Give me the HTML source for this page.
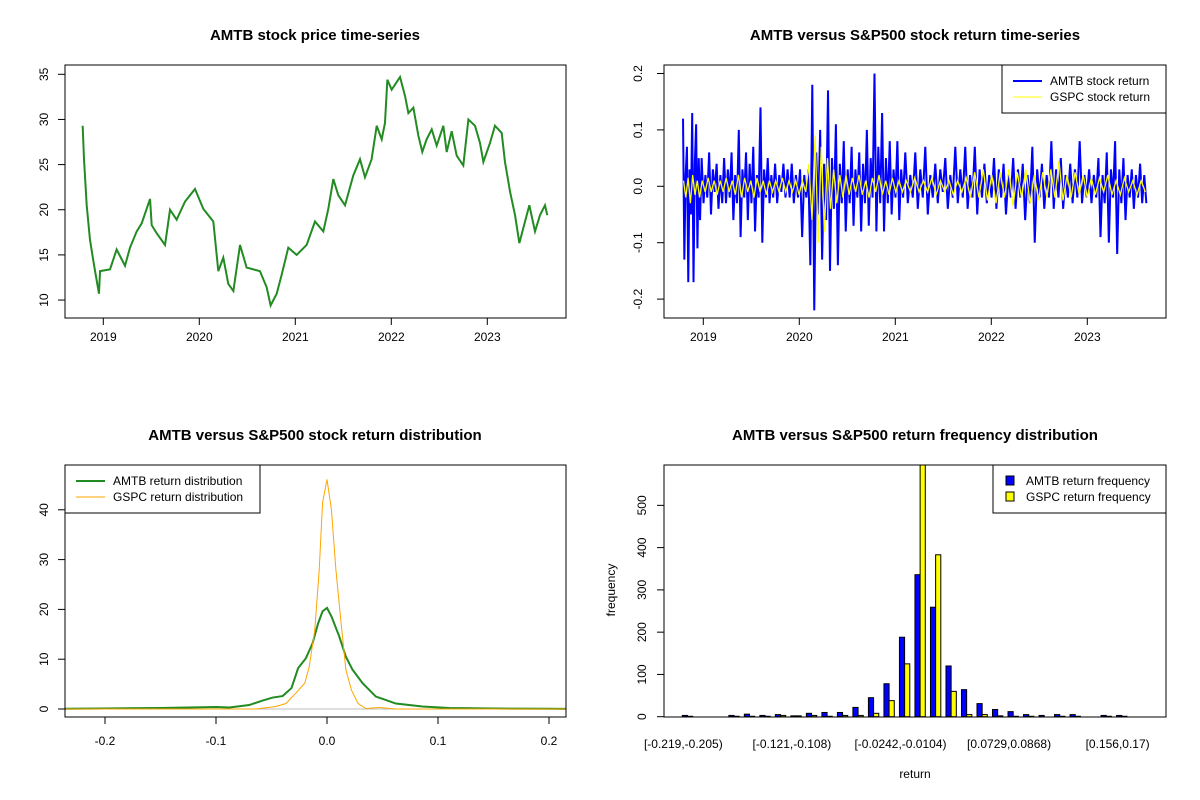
<!DOCTYPE html>
<html><head><meta charset="utf-8"><style>
body{margin:0;background:#fff}
svg{display:block;font-family:"Liberation Sans",Arial,sans-serif}
.t{font-size:15px;font-weight:bold;text-anchor:middle}
.tk{font-size:12px;text-anchor:middle}
.lg{font-size:12px}
</style></head><body>
<svg id="c" width="1200" height="800" viewBox="0 0 1200 800">
<defs>
<clipPath id="cp1"><rect x="65" y="65" width="501" height="253"/></clipPath>
<clipPath id="cp2"><rect x="664" y="65" width="502" height="253"/></clipPath>
<clipPath id="cp3"><rect x="65" y="465" width="501" height="252"/></clipPath>
<clipPath id="cp4"><rect x="664" y="465" width="502" height="252"/></clipPath>
</defs>
<rect width="1200" height="800" fill="#fff"/>
<text class="t" x="315" y="40">AMTB stock price time-series</text>
<text class="t" x="915" y="40">AMTB versus S&amp;P500 stock return time-series</text>
<text class="t" x="315" y="440">AMTB versus S&amp;P500 stock return distribution</text>
<text class="t" x="915" y="440">AMTB versus S&amp;P500 return frequency distribution</text>
<g id="p1"></g>
<g id="p2"></g>
<g id="p3"></g>
<g id="p4"></g>
<text class="tk" x="915" y="778">return</text>
<text class="tk" transform="translate(615,590) rotate(-90)">frequency</text>
</svg>
<script>
const priceYears=[2018.785,2018.799,2018.827,2018.861,2018.903,2018.955,2018.966,2019.070,2019.139,2019.226,2019.278,2019.348,2019.400,2019.487,2019.504,2019.556,2019.643,2019.695,2019.764,2019.851,2019.955,2020.042,2020.146,2020.198,2020.250,2020.302,2020.355,2020.424,2020.493,2020.632,2020.702,2020.743,2020.806,2020.858,2020.927,2021.014,2021.118,2021.205,2021.292,2021.344,2021.396,2021.448,2021.518,2021.604,2021.674,2021.726,2021.795,2021.848,2021.900,2021.934,2021.959,2022.004,2022.091,2022.143,2022.178,2022.230,2022.282,2022.323,2022.368,2022.421,2022.473,2022.542,2022.577,2022.629,2022.681,2022.750,2022.803,2022.872,2022.924,2022.959,2023.028,2023.080,2023.150,2023.184,2023.237,2023.289,2023.334,2023.393,2023.438,2023.497,2023.549,2023.601,2023.625];
const priceValues=[29.3,25.6,20.5,16.7,13.9,10.7,13.2,13.4,15.6,13.8,15.8,17.6,18.5,21.2,18.3,17.4,16.1,20.0,18.9,20.9,22.3,20.1,18.7,13.2,14.7,11.8,11.0,16.1,13.6,13.2,11.4,9.4,10.7,12.8,15.8,15.0,16.1,18.7,17.6,20.1,23.4,21.6,20.5,23.8,25.6,23.6,25.6,29.3,27.8,29.6,34.4,33.3,34.7,32.6,30.7,31.3,28.2,26.4,27.8,28.9,27.1,29.3,26.4,28.7,26.0,24.9,30.0,29.3,27.4,25.3,27.4,29.3,28.5,25.3,22.0,19.4,16.3,18.7,20.5,17.6,19.4,20.5,19.4];
const priceTicksY=[10,15,20,25,30,35];
const yearTicks=[2019,2020,2021,2022,2023];
const segBounds=[2018.782,2018.973,2019.285,2019.737,2020.084,2020.535,2021.091,2021.716,2022.515,2023.105,2023.626];
const amtbSegs=[
[0.12,-0.13,0.02,0.07,-0.17,0.03,-0.05,0.13,-0.17,0.04,0.11,-0.11,0.05,-0.06],
[0.05,-0.03,0.02,-0.02,0.06,-0.05,0.03,-0.01,0.04,-0.04,0.02,-0.03,0.05,-0.03,0.03,-0.02],
[0.06,-0.06,0.02,-0.03,0.10,-0.09,0.03,-0.02,0.06,-0.06,0.04,-0.03,0.07,-0.08,0.02,-0.02,0.14,-0.10,0.03,-0.02,0.05,-0.03,0.02,-0.02],
[0.04,-0.03,0.02,-0.01,0.04,-0.02,0.03,-0.02,0.04,-0.03,0.02,-0.02,0.03,-0.09,0.02,-0.02],
[0.03,-0.14,0.18,-0.22,0.06,-0.05,0.10,-0.13,0.04,-0.06,0.17,-0.15,0.05,-0.04,0.11,-0.14,0.04,-0.03,0.08,-0.08,0.03,-0.03],
[0.07,-0.07,0.03,-0.02,0.06,-0.08,0.04,-0.03,0.10,-0.07,0.05,-0.02,0.20,-0.08,0.07,-0.03,0.13,-0.08,0.05,-0.03,0.08,-0.05,0.03,-0.02,0.08,-0.06,0.03,-0.02],
[0.06,-0.03,0.02,-0.02,0.06,-0.04,0.03,-0.02,0.07,-0.05,0.02,-0.02,0.04,-0.03,0.03,-0.01,0.05,-0.04,0.02,-0.02,0.07,-0.03,0.03,-0.02],
[0.07,-0.04,0.02,-0.02,0.07,-0.05,0.03,-0.02,0.04,-0.03,0.02,-0.02,0.05,-0.04,0.03,-0.02,0.04,-0.05,0.02,-0.02,0.05,-0.04,0.03,-0.02,0.04,-0.06,0.02,-0.03,0.07,-0.10,0.03,-0.02],
[0.04,-0.04,0.02,-0.02,0.08,-0.04,0.03,-0.02,0.05,-0.04,0.02,-0.02,0.04,-0.03,0.03,-0.02,0.08,-0.03,0.02,-0.02,0.03,-0.03,0.02,-0.02],
[0.05,-0.09,0.02,-0.03,0.06,-0.10,0.03,-0.02,0.08,-0.12,0.03,-0.03,0.05,-0.06,0.02,-0.02,0.03,-0.04,0.02,-0.02,0.04,-0.03,0.02,-0.03]];
const gspcSegs=[
[0.01,-0.02,0.015,-0.03,0.02,-0.015,0.01,-0.02],
[0.01,-0.01,0.015,-0.01,0.01,-0.015,0.01,-0.01,0.015,-0.01],
[0.01,-0.015,0.02,-0.02,0.015,-0.01,0.01,-0.02,0.015,-0.01,0.01,-0.015,0.01,-0.01],
[0.01,-0.01,0.015,-0.01,0.01,-0.01,0.01,-0.015,0.01,-0.01],
[0.04,-0.06,0.09,-0.1,0.07,-0.08,0.05,-0.04,0.03,-0.03,0.02,-0.02,0.02,-0.015],
[0.015,-0.01,0.02,-0.015,0.01,-0.02,0.015,-0.01,0.02,-0.015,0.01,-0.015,0.015,-0.01,0.01,-0.01],
[0.01,-0.01,0.015,-0.01,0.01,-0.01,0.015,-0.015,0.01,-0.01,0.01,-0.015,0.01,-0.01],
[0.015,-0.02,0.025,-0.02,0.03,-0.025,0.02,-0.03,0.025,-0.02,0.03,-0.035,0.025,-0.02,0.03,-0.03,0.02,-0.025],
[0.025,-0.02,0.03,-0.02,0.045,-0.025,0.02,-0.02,0.025,-0.015,0.02,-0.02,0.015,-0.015],
[0.015,-0.01,0.02,-0.015,0.01,-0.015,0.015,-0.01,0.01,-0.015,0.01,-0.01]];
const retTicksY=[-0.2,-0.1,0.0,0.1,0.2];
const densAmtbX=[-0.24,-0.2,-0.15,-0.1,-0.088,-0.07,-0.058,-0.049,-0.04,-0.032,-0.026,-0.019,-0.013,-0.008,-0.004,0,0.004,0.011,0.017,0.023,0.032,0.044,0.062,0.086,0.11,0.15,0.2,0.22];
const densAmtbY=[0.05,0.1,0.2,0.4,0.3,0.8,1.7,2.3,2.6,4.2,8.2,10.2,13.2,17.2,19.6,20.3,18.6,14.6,10.5,7.9,5.2,2.5,1.1,0.5,0.2,0.1,0.05,0.03];
const densGspcX=[-0.24,-0.1,-0.064,-0.046,-0.037,-0.028,-0.02,-0.016,-0.011,-0.007,-0.004,0,0.004,0.008,0.013,0.017,0.022,0.028,0.035,0.047,0.062,0.1,0.22];
const densGspcY=[0,0,0,0.5,1.1,3.2,5.2,8.5,15.9,28,41.4,46.1,40,28,16.6,7.9,3.8,1.1,0.1,0.3,0,0,0];
const densTicksX=[-0.2,-0.1,0.0,0.1,0.2];
const densTicksY=[0,10,20,30,40];
const histAmtb=[3,0,0,3,6,3,5,2,8,10,10,22,45,78,188,336,259,120,64,31,17,12,5,3,5,5,0,3,3,0];
const histGspc=[1,0,0,1,1,1,3,2,3,1,3,3,8,38,125,620,383,60,5,5,2,1,1,0,1,1,0,1,1,0];
const histLabels=["[-0.219,-0.205)","","","","","","","[-0.121,-0.108)","","","","","","","[-0.0242,-0.0104)","","","","","","","[0.0729,0.0868)","","","","","","","[0.156,0.17)",""];
const histTicksY=[0,100,200,300,400,500];

const NS="http://www.w3.org/2000/svg";
function mk(parent,tag,attrs){const e=document.createElementNS(NS,tag);for(const k in attrs)e.setAttribute(k,attrs[k]);parent.appendChild(e);return e;}
function txt(parent,x,y,s,cls,rot){const e=mk(parent,'text',{x:x,y:y,class:cls});if(rot)e.setAttribute('transform','rotate(-90 '+x+' '+y+')');e.textContent=s;return e;}
function box(g,x0,y0,x1,y1){const r=mk(g,'rect',{x:x0,y:y0,width:x1-x0,height:y1-y0,fill:'none',stroke:'#000','stroke-width':1});

}
function xAxis(g,vals,sx,y,labels,labY){vals.forEach((v,i)=>{mk(g,'line',{x1:sx(v),x2:sx(v),y1:y,y2:y+7,stroke:'#000'});
const t=txt(g,sx(v),labY,labels?labels[i]:String(v),'tk');

});}
function yAxis(g,vals,sy,x,labX,fmt){vals.forEach(v=>{mk(g,'line',{x1:x-7,x2:x,y1:sy(v),y2:sy(v),stroke:'#000'});
const t=txt(g,labX,sy(v),fmt(v),'tk',true);

});}
function legend(g,x0,y0,x1,items){mk(g,'rect',{x:x0,y:y0,width:x1-x0,height:48,fill:'#fff',stroke:'#000'});
items.forEach((it,i)=>{const yy=y0+16+i*16;
if(it.sw){mk(g,'rect',{x:x0+13,y:yy-5,width:8,height:9,fill:it.c,stroke:'#000'});}
else mk(g,'line',{x1:x0+11,x2:x0+40,y1:yy,y2:yy,stroke:it.c,'stroke-width':it.w});
const t=txt(g,x0+(it.sw?33:48),yy+4,it.t,'lg');

});}

// Panel 1
const g1=document.getElementById('p1');
const sx1=y=>103.3+(y-2019)*96, sy1=v=>74.3+(35-v)*9.03;
const l1=mk(g1,'polyline',{points:priceYears.map((y,i)=>sx1(y)+','+sy1(priceValues[i])).join(' '),fill:'none',stroke:'#228B22','stroke-width':2,'clip-path':'url(#cp1)'});


box(g1,65,65,566,318);
xAxis(g1,yearTicks,sx1,318,null,341);
yAxis(g1,priceTicksY,sy1,65,48,v=>String(v));

// Panel 2
const g2=document.getElementById('p2');
const sx2=y=>703.3+(y-2019)*96, sy2=v=>186.3-v*564;
function retLine(segs,col,w,name){const pts=[];
segs.forEach((seg,k)=>{const a=segBounds[k],b=segBounds[k+1];seg.forEach((v,j)=>{pts.push(sx2(a+(b-a)*(j+0.5)/seg.length)+','+sy2(v));});});
const l=mk(g2,'polyline',{points:pts.join(' '),fill:'none',stroke:col,'stroke-width':w,'clip-path':'url(#cp2)'});

}
retLine(amtbSegs,'#0000FF',2,'amtb-return-line');
retLine(gspcSegs,'#FFFF00',1.3,'gspc-return-line');
box(g2,664,65,1166,318);
xAxis(g2,yearTicks,sx2,318,null,341);
yAxis(g2,retTicksY,sy2,664,642,v=>v.toFixed(1));
legend(g2,1002,65,1166,[{c:'#0000FF',w:2,t:'AMTB stock return'},{c:'#FFFF00',w:1,t:'GSPC stock return'}]);

// Panel 3
const g3=document.getElementById('p3');
const sx3=x=>327+x*1110, sy3=d=>709-d*4.98;
mk(g3,'line',{x1:65,x2:566,y1:sy3(0),y2:sy3(0),stroke:'#BEBEBE'});
const d1=mk(g3,'polyline',{points:densAmtbX.map((x,i)=>sx3(x)+','+sy3(densAmtbY[i])).join(' '),fill:'none',stroke:'#228B22','stroke-width':2,'clip-path':'url(#cp3)'});


const d2=mk(g3,'polyline',{points:densGspcX.map((x,i)=>sx3(x)+','+sy3(densGspcY[i])).join(' '),fill:'none',stroke:'#FFA500','stroke-width':1,'clip-path':'url(#cp3)'});


box(g3,65,465,566,717);
xAxis(g3,densTicksX,sx3,717,densTicksX.map(v=>v===0?'0.0':String(v)),745);
yAxis(g3,densTicksY,sy3,65,48,v=>String(v));
legend(g3,65,465,260,[{c:'#228B22',w:2,t:'AMTB return distribution'},{c:'#FFA500',w:1,t:'GSPC return distribution'}]);

// Panel 4
const g4=document.getElementById('p4');
const bw=5.17, sx4=i=>682.3+i*3*bw, sy4=v=>716.7-v*0.4227;
histAmtb.forEach((v,i)=>{const r=mk(g4,'rect',{x:sx4(i),y:sy4(v),width:bw,height:sy4(0)-sy4(v),fill:'#0000FF',stroke:'#000','stroke-width':1,'clip-path':'url(#cp4)'});

});
histGspc.forEach((v,i)=>{const r=mk(g4,'rect',{x:sx4(i)+bw,y:sy4(v),width:bw,height:sy4(0)-sy4(v),fill:'#FFFF00',stroke:'#000','stroke-width':1,'clip-path':'url(#cp4)'});

});
box(g4,664,465,1166,717);
histLabels.forEach((s,i)=>{if(!s)return;const t=txt(g4,sx4(i)+bw*0.2,748,s,'tk');

});
yAxis(g4,histTicksY,sy4,664,646,v=>String(v));
legend(g4,993,465,1166,[{c:'#0000FF',sw:1,t:'AMTB return frequency'},{c:'#FFFF00',sw:1,t:'GSPC return frequency'}]);
</script>
</body></html>
